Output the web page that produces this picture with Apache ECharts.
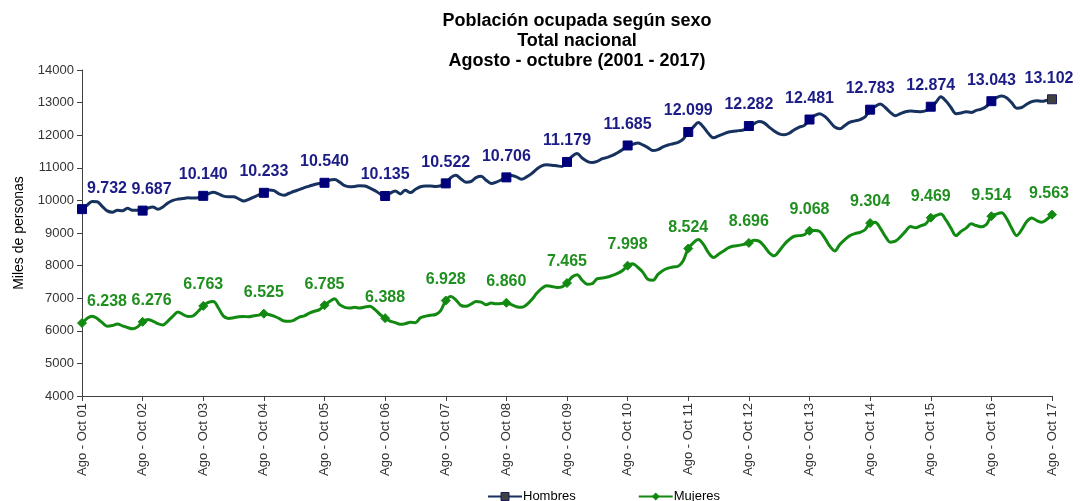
<!DOCTYPE html>
<html>
<head>
<meta charset="utf-8">
<script src="https://cdn.jsdelivr.net/npm/echarts@6/dist/echarts.min.js"></script>
<style>
html,body{margin:0;padding:0;background:#fff;}
#chart{width:1080px;height:501px;}
</style>
</head>
<body>
<div id="chart"></div>
<script>
// Tick labels (one per year, shown every 12 months)
const yearLabels = ['01','02','03','04','05','06','07','08','09','10','11','12','13','14','15','16','17'];

// Monthly rolling-quarter values (193 points, Ago-Oct 2001 .. Ago-Oct 2017), miles de personas
const hombres = [
  9732, 9850, 9970, 9960, 9820, 9680, 9640, 9700, 9680, 9760, 9700, 9700,
  9687, 9760, 9800, 9730, 9800, 9920, 10000, 10040, 10060, 10080, 10070, 10080,
  10140, 10200, 10250, 10200, 10130, 10110, 10110, 10050, 9980, 10030, 10100, 10170,
  10233, 10320, 10300, 10200, 10160, 10220, 10280, 10330, 10390, 10440, 10490, 10520,
  10540, 10620, 10640, 10560, 10450, 10420, 10430, 10450, 10440, 10380, 10300, 10200,
  10135, 10220, 10290, 10200, 10310, 10240, 10340, 10420, 10440, 10440, 10430, 10450,
  10522, 10700, 10770, 10660, 10560, 10580, 10700, 10740, 10620, 10520, 10560, 10630,
  10706, 10760, 10720, 10650, 10720, 10820, 10960, 11060, 11090, 11080, 11060, 11040,
  11179, 11350, 11440, 11300, 11200, 11160, 11200, 11280, 11320, 11380, 11460, 11560,
  11685, 11720, 11760, 11700, 11620, 11530, 11560, 11640, 11700, 11740, 11780, 11880,
  12099, 12250, 12390, 12250, 12050, 11920, 11980, 12040, 12100, 12120, 12140, 12160,
  12282, 12350, 12420, 12380, 12250, 12130, 12040, 12010, 12060, 12170, 12250, 12300,
  12481, 12600, 12660, 12580, 12420, 12250, 12200, 12300, 12400, 12440, 12480, 12560,
  12783, 12880, 12960, 12850, 12700, 12600, 12660, 12720, 12740, 12730, 12720, 12750,
  12874, 13000, 13180, 13050, 12850, 12660, 12680, 12720, 12700, 12760, 12800, 12880,
  13043, 13150, 13200, 13150, 13000, 12830, 12850, 12950, 13030, 13060, 13040, 13070,
  13102
];
const mujeres = [
  6238, 6380, 6450, 6380, 6250, 6140, 6160, 6210, 6150, 6100, 6060, 6120,
  6276, 6350, 6300, 6220, 6180, 6300, 6450, 6580, 6500, 6440, 6460, 6600,
  6763, 6870, 6900, 6700, 6450, 6380, 6400, 6430, 6440, 6430, 6460, 6480,
  6525, 6500, 6450, 6380, 6300, 6290, 6330, 6420, 6460, 6540, 6600, 6650,
  6785, 6900, 6980, 6800, 6720, 6700, 6720, 6700, 6730, 6750, 6650, 6500,
  6388, 6300, 6250, 6200, 6220, 6260, 6250, 6400, 6450, 6480, 6500, 6620,
  6928, 7050, 6950, 6780, 6750, 6820, 6900, 6880, 6800, 6850, 6830, 6840,
  6860, 6800, 6740, 6720, 6800, 6950, 7150, 7300, 7380, 7360, 7330, 7350,
  7465, 7650, 7720, 7550, 7430, 7450, 7600, 7620, 7650, 7700, 7760, 7850,
  7998, 8060, 7950, 7800, 7580, 7550, 7730, 7850, 7920, 7960, 7980, 8150,
  8524, 8700, 8800, 8650, 8400, 8250, 8350, 8450, 8550, 8600, 8620, 8650,
  8696, 8780, 8750, 8600, 8400, 8300, 8450, 8650, 8800, 8900, 8920, 8950,
  9068, 9080, 9050, 8850, 8600, 8450, 8650, 8800, 8920, 8980, 9020, 9100,
  9304, 9330, 9150, 8900, 8720, 8750, 8880, 9050, 9200, 9160, 9220, 9280,
  9469, 9530, 9580, 9400, 9150, 8920, 9050, 9150, 9280, 9230, 9190, 9260,
  9514, 9580, 9620, 9450, 9150, 8920, 9100, 9350, 9460, 9380, 9330, 9420,
  9563
];

const categories = hombres.map((_, i) => (i % 12 === 0) ? ('Ago - Oct ' + yearLabels[i / 12]) : ('m' + i));

function fmt(v) { return (v / 1000).toFixed(3); }

function buildData(values, kind) {
  const last = values.length - 1;
  return values.map((v, i) => {
    if (i % 12 !== 0) return { value: v, symbol: 'none', label: { show: false } };
    const item = { value: v, label: { show: true } };
    if (kind === 'h' && i === last) {
      item.itemStyle = { color: '#404040', borderColor: '#1a1a5e', borderWidth: 1 };
    }
    return item;
  });
}

function labelShift(params) {
  const i = params.dataIndex;
  let dx = 0;
  if (i === 0) dx = 25;
  else if (i === 12) dx = 9;
  else if (i === 192) dx = -3;
  return { dx: dx, dy: 0, hideOverlap: false };
}

const chart = echarts.init(document.getElementById('chart'), null, { renderer: 'canvas' });
chart.setOption({
  animation: false,
  backgroundColor: '#ffffff',
  title: {
    text: 'Población ocupada según sexo\nTotal nacional\nAgosto - octubre (2001 - 2017)',
    left: 572, top: 6, textAlign: 'center',
    textStyle: { fontFamily: 'Liberation Sans, Arial, sans-serif', fontSize: 18, fontWeight: 'bold', color: '#000', lineHeight: 20 }
  },
  legend: {
    left: 482, top: 485,
    itemWidth: 34, itemHeight: 10, itemGap: 62,
    textStyle: { fontFamily: 'Liberation Sans, Arial, sans-serif', fontSize: 13, color: '#000', padding: [0,0,0,-4] },
    data: [
      { name: 'Hombres', itemStyle: { color: '#404040', borderColor: '#1a1a5e', borderWidth: 1 } },
      { name: 'Mujeres' }
    ]
  },
  grid: { left: 82, right: 28, top: 70, bottom: 105, containLabel: false },
  xAxis: {
    type: 'category', data: categories, boundaryGap: false,
    axisLine: { lineStyle: { color: '#404040', width: 1 } },
    axisTick: { interval: 11, length: 5, lineStyle: { color: '#404040' } },
    axisLabel: {
      interval: 11, rotate: 90, margin: 7,
      fontFamily: 'Liberation Sans, Arial, sans-serif', fontSize: 13, color: '#333'
    },
    splitLine: { show: false }
  },
  yAxis: {
    type: 'value', min: 4000, max: 14000, interval: 1000,
    name: 'Miles de personas', nameLocation: 'middle', nameGap: 56, nameRotate: 90,
    nameTextStyle: { fontFamily: 'Liberation Sans, Arial, sans-serif', fontSize: 14, color: '#000' },
    axisLine: { show: true, lineStyle: { color: '#404040', width: 1 } },
    axisTick: { show: true, inside: false, length: 5, lineStyle: { color: '#404040' } },
    axisLabel: { formatter: v => String(v), fontFamily: 'Liberation Sans, Arial, sans-serif', fontSize: 13, color: '#333', margin: 8 },
    splitLine: { show: false }
  },
  series: [
    {
      name: 'Hombres', type: 'line', smooth: 0.35, showAllSymbol: true,
      symbol: 'rect', symbolSize: 9,
      data: buildData(hombres, 'h'),
      lineStyle: { color: '#17325f', width: 3 },
      itemStyle: { color: '#00007a', borderColor: '#00007a' },
      label: {
        show: true, position: 'top', distance: 8,
        formatter: p => fmt(p.value),
        fontFamily: 'Liberation Sans, Arial, sans-serif', fontSize: 16, fontWeight: 'bold', color: '#1c1c86'
      },
      labelLayout: labelShift,
      z: 3
    },
    {
      name: 'Mujeres', type: 'line', smooth: 0.35, showAllSymbol: true,
      symbol: 'diamond', symbolSize: 9,
      data: buildData(mujeres, 'm'),
      lineStyle: { color: '#128a12', width: 3 },
      itemStyle: { color: '#128a12', borderColor: '#128a12' },
      label: {
        show: true, position: 'top', distance: 8,
        formatter: p => fmt(p.value),
        fontFamily: 'Liberation Sans, Arial, sans-serif', fontSize: 16, fontWeight: 'bold', color: '#1f8f1f'
      },
      labelLayout: labelShift,
      z: 3
    }
  ]
});
</script>
</body>
</html>
